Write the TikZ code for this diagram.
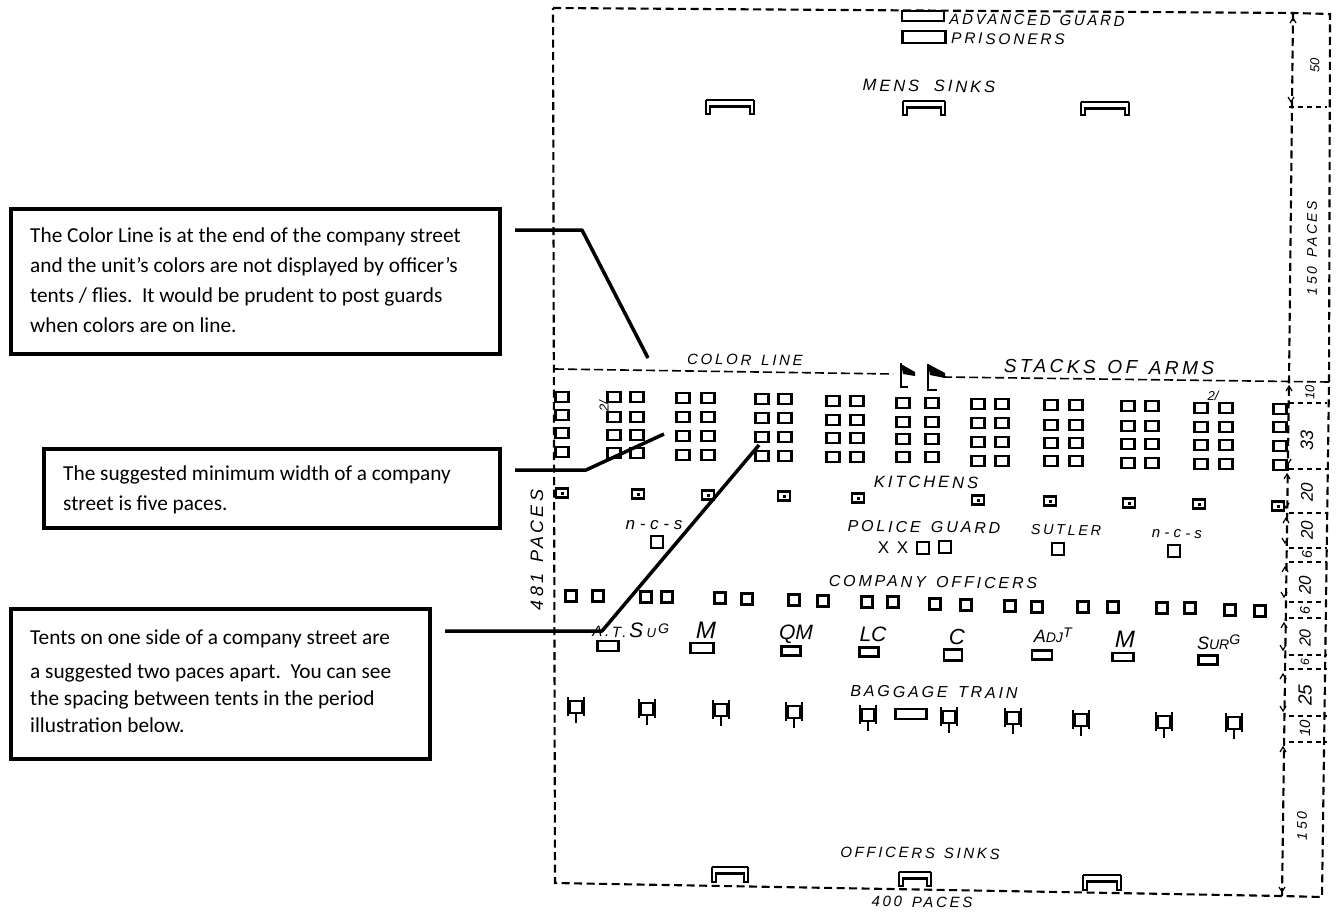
\documentclass[tikz,border=0pt]{standalone}
\usepackage{fontspec}
\setmainfont{Carlito}
\newfontfamily\mapf[LetterSpace=18]{Liberation Sans}
\newfontfamily\mapn[LetterSpace=0]{Liberation Sans}
\newcommand{\mfs}[1]{\fontsize{#1}{#1}\selectfont\mapf\itshape}
\newcommand{\mfn}[1]{\fontsize{#1}{#1}\selectfont\mapn\itshape}
\newcommand{\tent}[4]{\draw[tentline] (#1-#3/2,#2-#4/2) rectangle ++(#3,#4);\draw[tentbase] (#1-#3/2-1,#2+#4/2) -- ++(#3+2,0);}
\newcommand{\wagon}[2]{%
  \draw[wagonline] (#1-6,#2-6) rectangle ++(12,12);
  \draw[barline] (#1-8,#2-10) -- ++(0,19);
  \draw[barline] (#1+8,#2-10) -- ++(0,19);
  \draw[wagonline] (#1,#2+6) -- ++(0,10);
}
\newcommand{\sink}[4]{%
  \draw[wagonline] (#1,#2) -- (#3,#2);
  \draw[barline,line cap=butt] (#1,#2) -- (#1,#4) -- (#1+5,#4);
  \draw[barline,line cap=butt] (#3,#2) -- (#3,#4) -- (#3-5,#4);
  \draw[sinkbar] (#1+3,#2+6) -- (#3-3,#2+6);
  \draw[wagonline] (#1+4,#2+6) -- (#1+4,#4);
  \draw[wagonline] (#3-4,#2+6) -- (#3-4,#4);
}
\newcommand{\dimup}[2]{\draw[chevron] (#1-3,#2+5) -- (#1,#2) -- (#1+3,#2+5);}
\newcommand{\dimdn}[2]{\draw[chevron] (#1-3,#2-5) -- (#1,#2) -- (#1+3,#2-5);}
\tikzset{
  tentline/.style={draw=black,line width=2.1pt},
  tentbase/.style={draw=black,line width=2.8pt},
  wagonline/.style={draw=black,line width=1.6pt},
  barline/.style={draw=black,line width=2.6pt},
  sinkbar/.style={draw=black,line width=3pt},
  chevron/.style={draw=black,line width=1.2pt},
  frameline/.style={draw=black,line width=2.1pt,dash pattern=on 8pt off 4.5pt},
  colorline/.style={draw=black,line width=1.6pt,dash pattern=on 9pt off 4pt},
  tickline/.style={draw=black,line width=1.1pt,dash pattern=on 5pt off 4pt},
  calloutbox/.style={draw=black,line width=3.8pt,fill=white,anchor=north west,inner sep=0pt},
  callouttext/.style={anchor=west,inner sep=0pt,align=left,font=\fontsize{21.3}{30}\selectfont},
  leader/.style={draw=black,line width=3.5pt,line join=round},
  maplab/.style={inner sep=0pt,rotate=-0.7},
  striplab/.style={inner sep=0pt,rotate=90}
}
\begin{document}
\begin{tikzpicture}[x=1pt,y=-1pt]
\useasboundingbox (0,0) rectangle (1337,911);
\fill[white] (0,0) rectangle (1337,911);

% frame
\draw[frameline] (553,8) -- (1293,13) -- (1330,14) -- (1329,381) -- (1322,897) -- (1282,896) -- (555,883) -- cycle;
\draw[frameline] (1293,13) -- (1289,381) -- (1282,896);
\draw[colorline] (555,369) -- (893,374);
\draw[colorline] (943,377) -- (1329,382);

% strip ticks
\foreach \ya in {107,403,469,513,548,562,602,618,655,669,716,742}{
  \draw[tickline] (1289,\ya) -- (1327,\ya);
}
\foreach \cx/\cy in {1293/18,1289/386,1287/474,1286/518,1285/567,1284/623,1283/674,1283/747}{\dimup{\cx}{\cy}}
\foreach \cx/\cy in {1291/102,1288/464,1286/508,1285/543,1284/597,1283/650,1283/711,1282/892}{\dimdn{\cx}{\cy}}

% tents, regiment block
\foreach \cx/\ya/\yb/\yc/\yd in {562/397/415/433/452,614/397/417/435/453,637/397/417/435/453,683/398/417/436/455,708/398/417/436/455,762/399/418/437/456,785/399/418/437/456,833/401/420/438/457,857/401/420/438/457,903/403/422/439/457,932/403/422/439/457,978/404/423/442/461,1002/404/423/442/461,1051/405/425/443/461,1076/405/425/443/461,1128/406/426/444/463,1152/406/426/444/463,1201/408/427/445/464,1226/408/427/445/464,1280/409/427/446/465}{
  \tent{\cx}{\ya}{13}{10}
  \tent{\cx}{\yb}{13}{10}
  \tent{\cx}{\yc}{13}{10}
  \tent{\cx}{\yd}{13}{10}
}
% kitchens
\foreach \cx/\cy in {638/494,708/495,784/496,858/498,978/500,1050/501,1129/503,1199/504,1278/506,562/493}{
  \tent{\cx}{\cy}{12}{9}
  \fill[black] (\cx-1.5,\cy-1.5) rectangle ++(3,3);
}
% single tents
\foreach \cx/\cy in {657/542,1174/551,923/548,945/547,1058/549}{\tent{\cx}{\cy}{12}{12}}
% officers
\foreach \cx/\cy in {571/596,598/596,646/597,667/597,720/598,747/599,794/600,823/601,867/602,893/602,935/604,966/605,1010/606,1037/607,1083/607,1113/607,1162/608,1190/608,1230/610,1260/611}{\tent{\cx}{\cy}{11}{11}}
% staff
\foreach \cx/\cy/\cw/\ch in {608/646/21/10,702/648/23/10,791/651/19/9,869/652/19/9,953/655/18/11,1042/655/20/9,1123/657/21/8,1208/660/19/9,911/714/31/10}{\tent{\cx}{\cy}{\cw}{\ch}}
% wagons
\foreach \cx/\cy in {576/707,647/709,721/710,794/712,868/715,949/717,1013/718,1081/720,1164/722,1234/723}{\wagon{\cx}{\cy}}
% sinks
\sink{706}{100}{754}{114}
\sink{903}{101}{945}{115}
\sink{1081}{102}{1129}{115}
\sink{712}{867}{748}{882}
\sink{899}{872}{931}{886}
\sink{1083}{875}{1121}{890}
% guard rectangles
\tent{923}{16}{42}{10}
\tent{924}{37}{43}{12}
% flags
\draw[tentline] (901,363) -- (901,387) -- (908,387);
\fill[black] (901,364) -- (915,372) -- (915,376) -- (903,374) -- cycle;
\draw[tentline] (928,364) -- (928,390) -- (937,390);
\fill[black] (928,364) -- (945,373) -- (945,378) -- (930,375) -- cycle;

% map labels
\node[maplab] (ladv) at (1037,20) {\mfs{15}ADVANCED \hspace{2pt}GUARD};
\node[maplab] (lpris) at (1008,39) {\mfs{15.5}PRISONERS};
\node[maplab] (lmens) at (929,86) {\mfs{16.5}MENS \hspace{7pt}SINKS};
\node[maplab] (lcolor) at (745,360) {\mfs{15}COLOR \hspace{3pt}LINE};
\node[maplab] (lstack) at (1109,367) {\mfs{19}STACKS \hspace{3pt}OF \hspace{3pt}ARMS};
\node[maplab] (lkitch) at (926,482) {\mfs{16.5}KITCHENS};
\node[maplab] (lpol) at (924,527) {\mfs{16}POLICE \hspace{3pt}GUARD};
\node[maplab] (lsut) at (1066,530) {\mfs{14.5}SUTLER};
\node[maplab] (lncs1) at (654,525) {\mfn{17}n - c - s};
\node[maplab] (lncs2) at (1177,534) {\mfn{15}n - c - s};
\node[maplab,rotate=0.7] (lxx) at (893,548) {\fontsize{17}{17}\selectfont\mapf X X};
\node[maplab] (lcomp) at (933,582) {\mfs{16}COMPANY \hspace{3pt}OFFICERS};
\node[maplab] (lats) at (631,630) {\mfs{15}A.T.\,\mfn{21}S\,\mfn{13}U\,\textsuperscript{\mfn{14}G}};
\node[maplab] (lm1) at (706,630) {\mfn{24}M};
\node[maplab] (lqm) at (796,634) {\mfn{21}QM};
\node[maplab] (llc) at (873,634) {\mfn{21}LC};
\node[maplab] (lc) at (957,637) {\mfn{22}C};
\node[maplab] (ladj) at (1053,635) {\mfn{18}A\mfn{14}DJ\textsuperscript{\mfn{14}T}};
\node[maplab] (lm2) at (1125,639) {\mfn{24}M};
\node[maplab] (lsur) at (1219,642) {\mfn{18}S\mfn{14}UR\textsuperscript{\mfn{14}G}};
\node[maplab] (lbag) at (934,692) {\mfs{16}BAGGAGE \hspace{3pt}TRAIN};
\node[maplab] (loff) at (920,853) {\mfs{15}OFFICERS \hspace{2pt}SINKS};
\node[maplab] (l400) at (922,902) {\mfs{15}400 \hspace{3pt}PACES};
\node[striplab] (l481) at (537,550) {\mfs{18}481 \hspace{3pt}PACES};
\node[striplab] (l2a) at (604,406) {\mfn{13}2/};
\node[maplab] (l2b) at (1213,396) {\mfn{13}2/};
\node[striplab] (s50) at (1315,65) {\mfn{13}50};
\node[striplab] (s150) at (1312,248) {\mfs{14}150 \hspace{3pt}PACES};
\node[striplab] (s10a) at (1310,392) {\mfn{13}10};
\node[striplab] (s33) at (1307,440) {\mfn{18}33};
\node[striplab] (s20a) at (1307,492) {\mfn{17}20};
\node[striplab] (s20b) at (1307,530) {\mfn{17}20};
\node[striplab] (s6a) at (1307,555) {\mfn{14}6};
\node[striplab] (s20c) at (1305,585) {\mfn{17}20};
\node[striplab] (s6b) at (1305,611) {\mfn{14}6};
\node[striplab] (s20d) at (1305,638) {\mfn{16}20};
\node[striplab] (s6c) at (1305,662) {\mfn{12}6};
\node[striplab] (s25) at (1305,695) {\mfn{19}25};
\node[striplab] (s10b) at (1305,728) {\mfn{15}10};
\node[striplab] (s150b) at (1302,826) {\mfs{14}150};

% leaders
\coordinate (a1) at (515,230);
\coordinate (b1) at (582,230);
\coordinate (c1) at (648,358);
\coordinate (a2) at (515,470);
\coordinate (b2) at (586,470);
\coordinate (c2) at (664,434);
\coordinate (a3) at (445,631);
\coordinate (b3) at (602,631);
\coordinate (c3) at (759,445);
\draw[leader] (a1) -- (b1) -- (c1);
\draw[leader] (a2) -- (b2) -- (c2);
\draw[leader] (a3) -- (b3) -- (c3);

% callouts
\node[calloutbox,minimum width=489pt,minimum height=145pt] (box1) at (9,207) {};
\node[calloutbox,minimum width=456pt,minimum height=79pt] (box2) at (42,447) {};
\node[calloutbox,minimum width=419pt,minimum height=150pt] (box3) at (9,607) {};
\node[callouttext] (t1) at (30,280) {The Color Line is at the end of the company street\\and the unit’s colors are not displayed by officer’s\\tents / flies.\ \ It would be prudent to post guards\\when colors are on line.};
\node[callouttext] (t2) at (63,490) {The suggested minimum width of a company\\street is five paces.};
\node[callouttext,font=\fontsize{21.3}{27}\selectfont] (t3) at (30,681) {Tents on one side of a company street are\\[7pt]a suggested two paces apart.\ \ You can see\\the spacing between tents in the period\\illustration below.};
\end{tikzpicture}
\end{document}
